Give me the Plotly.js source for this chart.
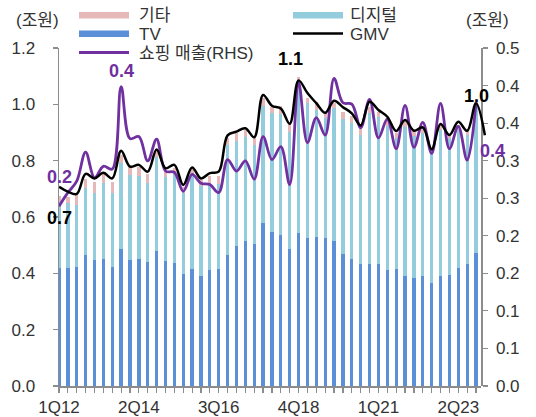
<!DOCTYPE html>
<html><head><meta charset="utf-8">
<script src="https://cdn.plot.ly/plotly-3.0.1.min.js"></script>
<style>html,body{margin:0;padding:0;background:#fff}</style>
</head><body><div id="chart" style="width:536px;height:417px"></div>
<script>
const quarters = ['1Q12','2Q12','3Q12','4Q12','1Q13','2Q13','3Q13','4Q13','1Q14','2Q14','3Q14','4Q14',
  '1Q15','2Q15','3Q15','4Q15','1Q16','2Q16','3Q16','4Q16','1Q17','2Q17','3Q17','4Q17',
  '1Q18','2Q18','3Q18','4Q18','1Q19','2Q19','3Q19','4Q19','1Q20','2Q20','3Q20','4Q20',
  '1Q21','2Q21','3Q21','4Q21','1Q22','2Q22','3Q22','4Q22','1Q23','2Q23','3Q23','4Q23'];
const gmvQuarters = quarters.concat(['1Q24']);
const xTickLabels = ['1Q12','2Q14','3Q16','4Q18','1Q21','2Q23'];

const tv = [0.42,0.42,0.424,0.465,0.447,0.452,0.422,0.486,0.447,0.451,0.44,0.479,
  0.445,0.436,0.398,0.414,0.389,0.412,0.416,0.465,0.497,0.516,0.503,0.578,
  0.547,0.535,0.486,0.544,0.527,0.529,0.524,0.515,0.469,0.45,0.432,0.432,
  0.432,0.412,0.415,0.39,0.382,0.39,0.366,0.39,0.393,0.419,0.432,0.472];
const digital = [0.235,0.231,0.219,0.239,0.239,0.268,0.264,0.307,0.301,0.295,0.282,0.335,
  0.298,0.317,0.288,0.335,0.321,0.308,0.302,0.391,0.374,0.367,0.353,0.416,
  0.421,0.431,0.417,0.536,0.477,0.451,0.426,0.471,0.479,0.485,0.459,0.538,
  0.524,0.511,0.464,0.53,0.506,0.51,0.472,0.519,0.486,0.49,0.459,0.529];
const other = [0.02,0.021,0.041,0.031,0.039,0.041,0.039,0.027,0.031,0.03,0.031,0.024,
  0.018,0.02,0.022,0.02,0.023,0.025,0.027,0.024,0.026,0.026,0.023,0.027,
  0.024,0.028,0.027,0.016,0.02,0.027,0.018,0.018,0.026,0.024,0.02,0.022,
  0.018,0.021,0.018,0.022,0.017,0.018,0.012,0.018,0.018,0.018,0.018,0.008];
const gmv = [0.707,0.69,0.682,0.753,0.737,0.757,0.737,0.835,0.779,0.785,0.761,0.84,
  0.773,0.785,0.714,0.776,0.737,0.756,0.761,0.89,0.903,0.915,0.883,1.033,
  0.995,0.985,0.931,1.085,1.04,1.004,0.97,1.013,0.99,0.968,0.925,1.009,
  0.98,0.956,0.905,0.944,0.906,0.918,0.84,0.93,0.891,0.938,0.906,1.004,0.89];
const shop = [0.266,0.286,0.303,0.346,0.308,0.325,0.321,0.443,0.366,0.369,0.333,0.365,
  0.318,0.316,0.288,0.313,0.3,0.298,0.286,0.335,0.318,0.333,0.306,0.369,
  0.335,0.354,0.298,0.449,0.36,0.397,0.371,0.455,0.419,0.417,0.382,0.424,
  0.367,0.395,0.351,0.415,0.353,0.39,0.344,0.418,0.351,0.384,0.334,0.419];
const rightTickText = ['0.0','0.1','0.1','0.2','0.2','0.3','0.3','0.4','0.4','0.5'];

const W = 536, H = 417, L = 59, R = 40, T = 48, B = 31;
const plotW = W - L - R, plotH = H - T - B;
const d = (481 - L) / plotW;
const xMax = 47.56;
const px = v => (v - L) / plotW;
const py = v => (H - B - v) / plotH;

const FONT = 'Liberation Sans, Arial, Noto Sans CJK KR, sans-serif';
const TXT = '#333333';
const AX = '#8c8c8c';
const C_TV = '#5B8FD8', C_DIG = '#93CDDD', C_OTH = '#E6B9B8', C_PUR = '#7030A0';

const data = [
  {type:'bar', x:quarters, y:tv, name:'TV', marker:{color:C_TV, line:{width:0}}, width:0.37},
  {type:'bar', x:quarters, y:digital, name:'디지털', marker:{color:C_DIG, line:{width:0}}, width:0.37},
  {type:'bar', x:quarters, y:other, name:'기타', marker:{color:C_OTH, line:{width:0}}, width:0.37},
  {type:'scatter', mode:'lines', x:quarters, y:shop, yaxis:'y2', name:'쇼핑 매출(RHS)',
   line:{color:C_PUR, width:2.8, shape:'spline', smoothing:1}},
  {type:'scatter', mode:'lines', x:gmvQuarters, y:gmv, xaxis:'x3', name:'GMV',
   line:{color:'#000000', width:2.5, shape:'spline', smoothing:1}}
];

const tickText = quarters.map(q => xTickLabels.includes(q) ? q : '');
const rightTickVals = rightTickText.map((t, i) => i * 0.5 / 9);

const shapes = [
  {type:'rect', xref:'paper', yref:'paper', x0:px(79), x1:px(129), y0:py(18.5), y1:py(12), fillcolor:C_OTH, line:{width:0}},
  {type:'rect', xref:'paper', yref:'paper', x0:px(79), x1:px(129), y0:py(37), y1:py(30.5), fillcolor:C_TV, line:{width:0}},
  {type:'line', xref:'paper', yref:'paper', x0:px(79), x1:px(129), y0:py(52.5), y1:py(52.5), line:{color:C_PUR, width:3}},
  {type:'rect', xref:'paper', yref:'paper', x0:px(293), x1:px(343), y0:py(18.5), y1:py(12), fillcolor:C_DIG, line:{width:0}},
  {type:'line', xref:'paper', yref:'paper', x0:px(293), x1:px(343), y0:py(33.5), y1:py(33.5), line:{color:'#000', width:2.5}}
];

function txt(text, x, y, anchor) {
  return {text:text, xref:'paper', yref:'paper', x:px(x), y:py(y), xanchor:anchor||'left', yanchor:'middle',
    showarrow:false, font:{family:FONT, size:17, color:TXT}};
}
function lbl(text, x, y, yref, color, xs, ys) {
  return {text:'<b>'+text+'</b>', xref:'x', yref:yref, x:x, y:y, xshift:xs, yshift:ys, showarrow:false,
    xanchor:'center', yanchor:'middle', font:{family:FONT, size:18, color:color}};
}

const annotations = [
  txt('(조원)', 37, 21, 'center'),
  txt('(조원)', 487, 21, 'center'),
  txt('기타', 137, 15.5),
  txt('TV', 137, 34),
  txt('쇼핑 매출(RHS)', 137, 53.5),
  txt('디지털', 348, 15.5),
  txt('GMV', 348, 34),
  lbl('0.2', '1Q12', shop[0], 'y2', C_PUR, 0, 29),
  lbl('0.7', '1Q12', gmv[0], 'y', '#000', 0, -31),
  lbl('0.4', '4Q13', shop[7], 'y2', C_PUR, 0, 16),
  lbl('1.1', '4Q18', gmv[27], 'y', '#000', -8, 21),
  lbl('1.0', '4Q23', gmv[47], 'y', '#000', 0, 7),
  lbl('0.4', '4Q23', shop[47], 'y2', C_PUR, 16, -48)
];

const layout = {
  width:W, height:H,
  margin:{l:L, r:R, t:T, b:B, pad:0},
  paper_bgcolor:'#ffffff', plot_bgcolor:'rgba(0,0,0,0)',
  barmode:'stack', bargap:0.6,
  showlegend:false,
  font:{family:FONT, size:17, color:TXT},
  xaxis:{domain:[0,d], type:'category', range:[0, xMax], tickmode:'array', tickvals:quarters, ticktext:tickText,
    ticks:'outside', ticklen:5, tickwidth:1.2, tickcolor:AX, showline:true, linecolor:AX, linewidth:1.5,
    showgrid:false, zeroline:false, tickangle:0, tickfont:{family:FONT, size:17, color:TXT}, anchor:'y'},
  xaxis3:{domain:[0,1], type:'category', range:[0, xMax / d], visible:false, anchor:'y', showgrid:false, zeroline:false},
  yaxis:{range:[0,1.2], dtick:0.2, tick0:0, tickformat:'.1f', ticks:'outside', ticklen:5, tickwidth:1.2, tickcolor:AX,
    showline:true, linecolor:AX, linewidth:1.5, showgrid:false, zeroline:false, anchor:'x',
    ticklabelstandoff:14, tickfont:{family:FONT, size:17, color:TXT}},
  yaxis2:{range:[0,0.5], overlaying:'y', side:'right', anchor:'free', position:d, tickmode:'array',
    tickvals:rightTickVals, ticktext:rightTickText, ticks:'outside', ticklen:5, tickwidth:1.2, tickcolor:AX,
    showline:true, linecolor:AX, linewidth:1.5, showgrid:false, zeroline:false,
    ticklabelstandoff:5, tickfont:{family:FONT, size:17, color:TXT}},
  shapes:shapes,
  annotations:annotations
};

Plotly.newPlot('chart', data, layout, {staticPlot:true, displayModeBar:false});
</script></body></html>
